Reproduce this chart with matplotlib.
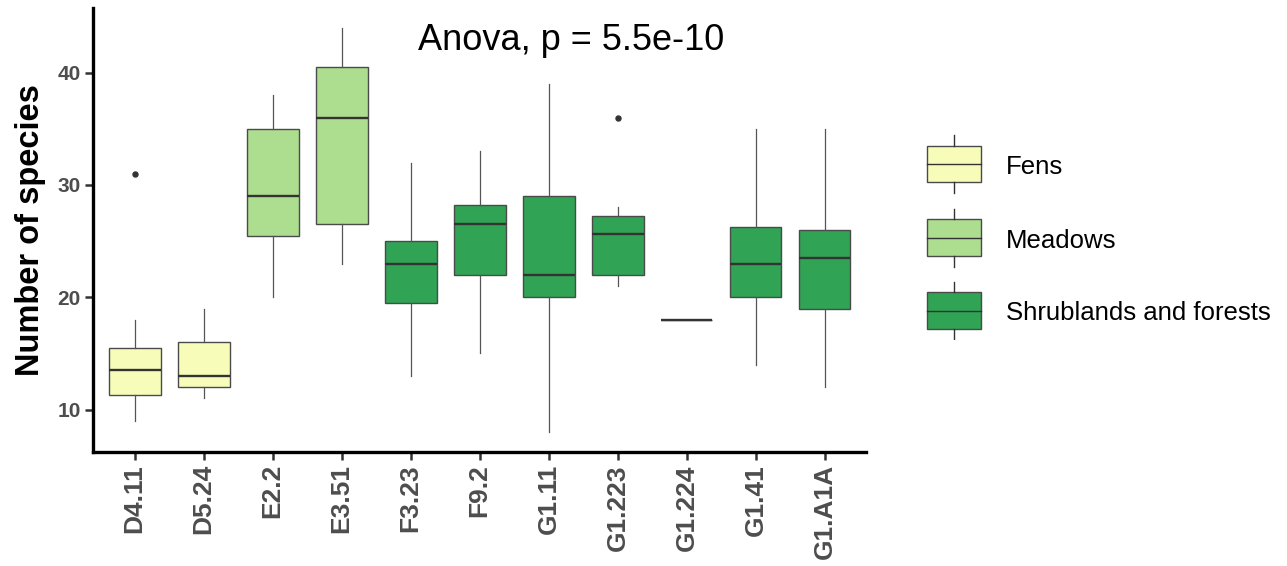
import matplotlib
matplotlib.use("Agg")
import matplotlib.pyplot as plt
from matplotlib.patches import Rectangle

plt.rcParams['font.family'] = ['Liberation Sans', 'DejaVu Sans']

# -----------------------------
# Data
# -----------------------------
habitats = ["D4.11", "D5.24", "E2.2", "E3.51", "F3.23", "F9.2",
            "G1.11", "G1.223", "G1.224", "G1.41", "G1.A1A"]
groups = ["Fens", "Fens", "Meadows", "Meadows", "Shrublands and forests",
          "Shrublands and forests", "Shrublands and forests", "Shrublands and forests",
          "Shrublands and forests", "Shrublands and forests", "Shrublands and forests"]

whisker_low = [9, 11, 20, 23, 13, 15, 8, 21, 18, 14, 12]
q1 = [11.3, 12, 25.5, 26.5, 19.5, 22, 20, 22, 18, 20, 19]
medians = [13.5, 13, 29, 36, 23, 26.5, 22, 25.6, 18, 23, 23.5]
q3 = [15.5, 16, 35, 40.5, 25, 28.2, 29, 27.25, 18, 26.25, 26]
whisker_high = [18, 19, 38, 44, 32, 33, 39, 28, 18, 35, 35]
outliers = [[31], [], [], [], [], [], [], [36], [], [], []]

legend_groups = ["Fens", "Meadows", "Shrublands and forests"]
group_colors = {"Fens": "#F7FCB9", "Meadows": "#ADDD8E",
                "Shrublands and forests": "#31A354"}

anova_label = "Anova, p = 5.5e-10"

# -----------------------------
# Figure
# -----------------------------
W, H = 1287, 566
fig = plt.figure(figsize=(W / 100, H / 100), dpi=100)
ax = fig.add_axes([93.3 / W, 1 - 451.7 / H, (866 - 93.3) / W, (451.7 - 8.3) / H])

stats = []
for i, name in enumerate(habitats):
    stats.append({"label": name, "whislo": whisker_low[i], "q1": q1[i],
                  "med": medians[i], "q3": q3[i], "whishi": whisker_high[i],
                  "fliers": outliers[i]})

edge = "#333333"
bp = ax.bxp(stats, positions=range(1, len(habitats) + 1), widths=0.75,
            patch_artist=True, showcaps=False,
            boxprops=dict(edgecolor="#4a4a4a", linewidth=1.0),
            medianprops=dict(color=edge, linewidth=1.7),
            whiskerprops=dict(color="#555555", linewidth=0.9),
            flierprops=dict(marker="o", markersize=3.6, markerfacecolor=edge,
                            markeredgecolor=edge, linestyle="none"))
for patch, g in zip(bp["boxes"], groups):
    patch.set_facecolor(group_colors[g])

ax.set_xlim(0.4, 11.6)
ax.set_ylim(6.25, 45.73)
ax.set_yticks([10, 20, 30, 40])
ax.set_xticks(range(1, len(habitats) + 1))
ax.set_xticklabels(habitats, rotation=90, fontsize=19, fontweight="bold", color="#4D4D4D")
for lab in ax.get_yticklabels():
    lab.set_fontsize(15)
    lab.set_fontweight("bold")
    lab.set_color("#4D4D4D")
ax.tick_params(axis="both", length=6, width=1.8, color=edge, pad=3)

for side in ["top", "right"]:
    ax.spines[side].set_visible(False)
for side in ["left", "bottom"]:
    ax.spines[side].set_linewidth(2.4)
    ax.spines[side].set_color("black")

ax.set_ylabel("Number of species", fontsize=23.5, fontweight="bold", labelpad=8)
ax.text(5.1, 42.0, anova_label, fontsize=26, ha="left", va="baseline")

# -----------------------------
# Legend (drawn by hand, ggplot style)
# -----------------------------
lax = fig.add_axes([900 / W, 1 - 340 / H, 387 / W, 220 / H])
lax.set_xlim(0, 387)
lax.set_ylim(220, 0)
lax.axis("off")
key_y = [44, 117.7, 190.5]
for g, cy in zip(legend_groups, key_y):
    lax.plot([53.7, 53.7], [cy - 29, cy - 18.3], color=edge, lw=1.0)
    lax.plot([53.7, 53.7], [cy + 18.3, cy + 29], color=edge, lw=1.0)
    lax.add_patch(Rectangle((26.7, cy - 18.3), 54, 36.6, facecolor=group_colors[g],
                            edgecolor="#4a4a4a", lw=1.0))
    lax.plot([26.7, 80.7], [cy, cy], color=edge, lw=1.0)
    lax.text(106, cy + 3, g, fontsize=18.5, va="center", ha="left")

fig.savefig("out.png", dpi=100)
